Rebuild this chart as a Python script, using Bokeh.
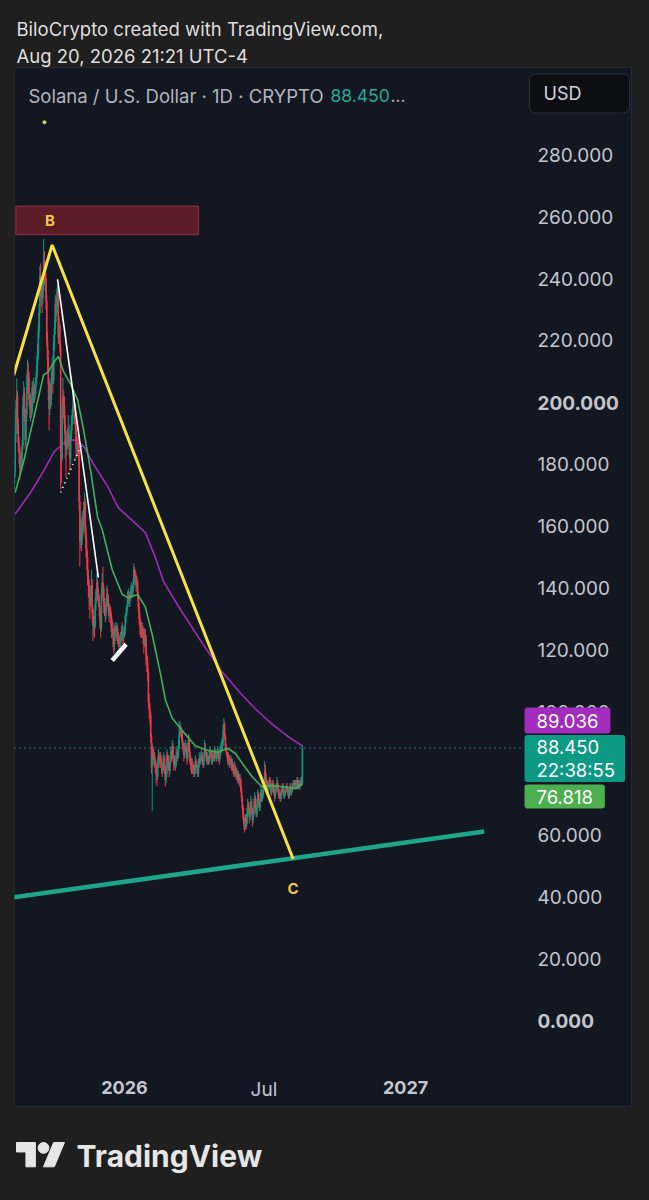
import pandas as pd
from bokeh.plotting import figure
from bokeh.layouts import column
from bokeh.models import (Range1d, LinearAxis, FixedTicker, NumeralTickFormatter,
                          Label, ColumnDataSource)
from bokeh.embed import file_html
from bokeh.resources import INLINE
from bokeh.core.properties import value

# ---------------- data ----------------
first_open = 174
month_starts = ["2025-08-11", "2025-09-01", "2025-10-01", "2025-11-01", "2025-12-01",
                "2026-01-01", "2026-02-01", "2026-03-01", "2026-04-01", "2026-05-01",
                "2026-06-01", "2026-07-01", "2026-08-01"]
close_2025_08 = [178, 190, 198, 202, 193, 187, 184, 179, 182, 181, 186, 199, 203, 196, 188, 196, 205, 210, 208, 201, 198]
high_2025_08 = [181, 193, 201, 208, 204, 195, 189, 186, 184, 185, 188, 202, 207, 205, 198, 198, 209, 214, 213, 210, 203]
low_2025_08 = [172, 176, 187, 195, 190, 184, 180, 175, 177, 178, 180, 185, 196, 194, 185, 186, 194, 203, 204, 199, 195]
close_2025_09 = [200, 197, 205, 202, 205, 203, 205, 208, 212, 216, 223, 229, 241, 238, 236, 234, 238, 246, 242, 240, 233, 220, 214, 206, 198, 205, 201, 208, 211, 207]
high_2025_09 = [203, 202, 207, 207, 208, 206, 207, 210, 215, 219, 226, 232, 244, 245, 240, 239, 241, 253, 249, 245, 242, 235, 223, 217, 208, 207, 206, 210, 215, 213]
low_2025_09 = [194, 195, 196, 199, 200, 200, 201, 203, 206, 210, 214, 221, 228, 234, 231, 229, 232, 236, 238, 236, 230, 218, 210, 201, 191, 196, 198, 199, 206, 203]
close_2025_10 = [220, 224, 232, 229, 234, 236, 221, 225, 218, 184, 182, 198, 202, 199, 193, 186, 185, 187, 188, 190, 186, 182, 189, 193, 195, 199, 200, 196, 194, 185, 187]
high_2025_10 = [222, 227, 235, 234, 237, 238, 237, 228, 226, 220, 188, 200, 208, 204, 202, 196, 190, 191, 192, 196, 193, 188, 191, 196, 198, 203, 204, 203, 200, 197, 190]
low_2025_10 = [206, 217, 222, 226, 228, 231, 219, 219, 216, 172, 174, 181, 196, 195, 190, 182, 176, 183, 185, 186, 183, 178, 180, 188, 191, 193, 197, 193, 190, 182, 183]
close_2025_11 = [186, 185, 168, 155, 158, 156, 163, 160, 166, 168, 158, 153, 150, 144, 141, 137, 135, 139, 141, 132, 128, 130, 128, 135, 139, 142, 139, 137, 134, 130]
high_2025_11 = [189, 188, 186, 170, 162, 161, 165, 164, 168, 171, 169, 160, 156, 152, 146, 143, 140, 141, 146, 143, 134, 133, 131, 137, 140, 145, 143, 140, 138, 135]
low_2025_11 = [183, 182, 165, 147, 153, 152, 154, 157, 158, 163, 156, 150, 146, 141, 137, 133, 130, 134, 136, 129, 123, 125, 124, 127, 133, 137, 136, 134, 131, 127]
close_2025_12 = [127, 138, 142, 140, 135, 134, 132, 134, 138, 137, 134, 132, 133, 131, 126, 127, 125, 122, 126, 127, 126, 127, 124, 123, 122, 123, 124, 126, 125, 126, 125]
high_2025_12 = [132, 140, 145, 147, 141, 137, 135, 137, 141, 140, 138, 135, 135, 134, 132, 130, 129, 127, 128, 129, 128, 129, 128, 126, 125, 125, 126, 128, 129, 128, 127]
low_2025_12 = [124, 126, 136, 137, 132, 131, 129, 130, 133, 134, 131, 129, 130, 128, 124, 124, 121, 119, 120, 124, 123, 124, 122, 121, 120, 121, 121, 123, 122, 123, 122]
close_2026_01 = [127, 131, 132, 134, 137, 138, 136, 137, 139, 140, 139, 141, 146, 144, 144, 141, 142, 138, 134, 130, 128, 127, 126, 127, 124, 122, 125, 124, 117, 116, 113]
high_2026_01 = [128, 132, 134, 135, 139, 140, 139, 139, 141, 142, 141, 143, 148, 147, 146, 145, 144, 143, 139, 135, 132, 130, 129, 129, 128, 126, 127, 127, 125, 119, 118]
low_2026_01 = [124, 125, 129, 131, 133, 135, 134, 134, 136, 137, 137, 138, 140, 142, 141, 139, 139, 136, 132, 128, 125, 124, 124, 124, 122, 119, 121, 121, 115, 113, 110]
close_2026_02 = [103, 101, 99, 92, 82, 88, 85, 86, 84, 83, 80, 79, 83, 86, 84, 86, 84, 82, 81, 84, 85, 82, 78, 80, 86, 84, 83, 81]
high_2026_02 = [114, 106, 103, 100, 93, 90, 89, 88, 87, 85, 84, 81, 85, 88, 87, 87, 87, 85, 83, 86, 87, 86, 83, 82, 88, 87, 86, 84]
low_2026_02 = [101, 98, 96, 90, 80, 68, 83, 83, 82, 80, 77, 76, 78, 82, 82, 83, 82, 80, 79, 80, 82, 80, 76, 77, 79, 82, 81, 79]
close_2026_03 = [84, 87, 86, 89, 85, 83, 84, 83, 86, 87, 86, 89, 93, 95, 94, 93, 90, 89, 86, 88, 89, 87, 85, 88, 91, 87, 84, 83, 82, 83, 82]
high_2026_03 = [86, 89, 88, 91, 90, 86, 86, 85, 88, 89, 88, 91, 97, 97, 96, 95, 94, 91, 90, 90, 91, 90, 88, 90, 93, 92, 88, 86, 85, 85, 84]
low_2026_03 = [80, 83, 84, 85, 84, 81, 82, 81, 82, 85, 84, 85, 88, 92, 92, 91, 88, 87, 84, 85, 87, 85, 83, 84, 87, 86, 83, 81, 80, 80, 80]
close_2026_04 = [80, 81, 84, 83, 82, 80, 83, 85, 84, 85, 86, 84, 83, 85, 88, 87, 86, 84, 85, 84, 86, 87, 86, 84, 85, 86, 85, 87, 86, 85]
high_2026_04 = [83, 83, 86, 85, 84, 83, 85, 87, 86, 87, 88, 87, 85, 87, 91, 90, 88, 87, 87, 86, 88, 89, 88, 87, 87, 88, 87, 89, 88, 87]
low_2026_04 = [79, 79, 80, 82, 80, 79, 79, 82, 83, 83, 84, 83, 82, 82, 85, 86, 84, 83, 83, 83, 83, 85, 85, 83, 83, 84, 84, 84, 85, 84]
close_2026_05 = [86, 87, 86, 85, 87, 88, 89, 90, 94, 96, 92, 89, 87, 86, 84, 85, 83, 85, 84, 82, 83, 81, 80, 82, 81, 79, 80, 78, 79, 77, 78]
high_2026_05 = [88, 89, 88, 87, 89, 90, 91, 92, 96, 98, 97, 93, 90, 88, 87, 87, 86, 86, 86, 85, 85, 84, 82, 84, 83, 82, 82, 81, 81, 80, 80]
low_2026_05 = [84, 85, 84, 83, 84, 86, 87, 88, 89, 93, 91, 88, 86, 85, 83, 83, 82, 82, 83, 81, 81, 80, 79, 79, 80, 78, 78, 77, 77, 76, 76]
close_2026_06 = [75, 72, 69, 66, 64, 63, 66, 64, 67, 70, 68, 66, 69, 71, 68, 65, 67, 70, 72, 69, 67, 70, 73, 71, 69, 72, 74, 72, 73, 75]
high_2026_06 = [79, 76, 73, 70, 67, 66, 67, 67, 69, 72, 71, 69, 71, 73, 72, 69, 69, 72, 74, 73, 70, 72, 75, 74, 72, 74, 76, 75, 75, 77]
low_2026_06 = [74, 71, 68, 65, 62, 61, 62, 62, 63, 66, 67, 64, 65, 68, 67, 63, 64, 66, 69, 68, 66, 66, 69, 70, 68, 68, 71, 71, 71, 72]
close_2026_07 = [77, 81, 79, 76, 77, 75, 76, 78, 77, 74, 75, 77, 76, 74, 73, 75, 76, 77, 75, 73, 74, 72, 73, 75, 76, 74, 73, 74, 75, 76, 75]
high_2026_07 = [78, 84, 83, 80, 78, 78, 77, 79, 79, 78, 76, 78, 78, 77, 75, 76, 77, 79, 78, 76, 75, 75, 74, 76, 77, 77, 75, 75, 76, 77, 77]
low_2026_07 = [74, 76, 78, 75, 75, 74, 74, 75, 76, 73, 73, 74, 75, 73, 71, 72, 74, 75, 74, 72, 72, 71, 71, 72, 74, 73, 72, 72, 73, 74, 74]
close_2026_08 = [74, 73, 75, 76, 74, 75, 76, 77, 76, 77, 76, 77, 78, 76, 77, 76, 77, 78, 77, 88.45]
high_2026_08 = [76, 75, 76, 77, 77, 76, 77, 78, 78, 78, 78, 78, 79, 79, 78, 78, 78, 79, 79, 89.2]
low_2026_08 = [73, 72, 72, 74, 73, 73, 74, 75, 75, 75, 75, 75, 76, 75, 75, 75, 75, 76, 76, 76.5]

# moving averages
ma_fast_dates = ["2025-08-12", "2025-08-23", "2025-09-05", "2025-09-18", "2025-09-24", "2025-10-01",
                 "2025-10-07", "2025-10-14", "2025-10-23", "2025-11-01", "2025-11-09", "2025-11-18",
                 "2025-11-27", "2025-12-03", "2025-12-16", "2025-12-29", "2026-01-06", "2026-01-18",
                 "2026-01-28", "2026-02-06", "2026-02-17", "2026-02-23", "2026-03-04", "2026-03-17",
                 "2026-04-03", "2026-04-20", "2026-05-02", "2026-05-15", "2026-05-25", "2026-06-03",
                 "2026-06-16", "2026-06-29", "2026-07-12", "2026-07-29", "2026-08-11", "2026-08-20"]
ma_fast_values = [171, 181, 195, 209, 210, 213, 215, 210, 206, 201, 191, 178, 163, 159, 146, 138, 137, 138,
                  134, 125, 112, 104, 98, 94, 89, 87.6, 87, 88.3, 86.6, 83.4, 79, 75.7, 76.3, 75.7, 75.3, 76.818]
ma_slow_dates = ["2025-08-12", "2025-09-01", "2025-09-18", "2025-10-01", "2025-10-14", "2025-10-27",
                 "2025-11-09", "2025-11-22", "2025-12-10", "2025-12-24", "2026-01-11", "2026-01-28",
                 "2026-02-10", "2026-02-21", "2026-03-15", "2026-04-10", "2026-05-06", "2026-06-01",
                 "2026-06-20", "2026-07-12", "2026-08-02", "2026-08-20"]
ma_slow_values = [164, 171, 178, 184, 187, 188, 186, 180, 173, 166, 162, 158, 150, 142, 133, 123, 113.5,
                  106, 101, 96, 92, 89.036]

last_price = 88.45
countdown = "22:38:55"
# drawings
abc_dates = ["2025-08-10", "2025-09-29", "2026-08-08"]
abc_values = [208.9, 251.0, 52.5]
support_dates = ["2025-08-10", "2027-04-13"]
support_values = [40.1, 61.4]
zone_dates = ["2025-08-13", "2026-04-07"]
zone_values = [254.4, 263.5]
white_dates = ["2025-10-06", "2025-11-28"]
white_values = [239.9, 143.5]
dotted_dates = ["2025-10-10", "2025-11-07"]
dotted_values = [171.0, 187.0]
thick_dates = ["2025-12-16", "2026-01-03"]
thick_values = [116.7, 121.9]
wave_labels = ["B", "C"]
wave_dates = ["2025-09-26", "2026-08-08"]
wave_values = [259.0, 43.0]
marker_dates = ["2025-09-19"]
marker_values = [290.7]

y_ticks = [0, 20, 40, 60, 80, 100, 120, 140, 160, 180, 200, 220, 240, 260, 280]
y_bold = [0, 200]
x_tick_dates = ["2026-01-01", "2026-07-01", "2027-01-01"]
x_tick_labels = ["2026", "Jul", "2027"]
x_bold = ["2026", "2027"]

# ---------------- helpers ----------------
ORIGIN = pd.Timestamp("2026-01-01")


def days(dates):
    return [(pd.Timestamp(d) - ORIGIN).days for d in dates]


closes = [close_2025_08, close_2025_09, close_2025_10, close_2025_11, close_2025_12, close_2026_01,
          close_2026_02, close_2026_03, close_2026_04, close_2026_05, close_2026_06, close_2026_07, close_2026_08]
highs = [high_2025_08, high_2025_09, high_2025_10, high_2025_11, high_2025_12, high_2026_01,
         high_2026_02, high_2026_03, high_2026_04, high_2026_05, high_2026_06, high_2026_07, high_2026_08]
lows = [low_2025_08, low_2025_09, low_2025_10, low_2025_11, low_2025_12, low_2026_01,
        low_2026_02, low_2026_03, low_2026_04, low_2026_05, low_2026_06, low_2026_07, low_2026_08]

X, O, H, L, C = [], [], [], [], []
prev = first_open
for start, cl, hi, lo in zip(month_starts, closes, highs, lows):
    d0 = (pd.Timestamp(start) - ORIGIN).days
    for i, c in enumerate(cl):
        o = prev
        X.append(d0 + i)
        O.append(o)
        C.append(c)
        H.append(max(hi[i], o, c))
        L.append(min(lo[i], o, c))
        prev = c

UP, DOWN = "#089981", "#f23645"
colors = [UP if c >= o else DOWN for o, c in zip(O, C)]
src = ColumnDataSource(dict(x=X, o=O, h=H, l=L, c=C, color=colors))

FONT = "Inter"
OUTER = "#1f1f1f"
PANEL = "#131722"
TXT = "#c3c6cd"

# ---------------- header ----------------
hdr = figure(width=649, height=67, x_range=Range1d(0, 649), y_range=Range1d(67, 0),
             output_backend="svg", toolbar_location=None, x_axis_location=None, y_axis_location=None,
             min_border=0, background_fill_color=OUTER, border_fill_color=OUTER, outline_line_color=None)
hdr.grid.visible = False
hdr.text(x=[16, 16], y=[28, 55], text=["BiloCrypto created with TradingView.com,", "Aug 20, 2026 21:21 UTC-4"],
         text_font=value(FONT), text_font_size="18.5px", text_color="#dedede", text_baseline="middle")

# ---------------- main chart ----------------
PX_PER_DAY = 0.77
PX_PER_USD = 3.0929
X0 = -142.9          # left edge of the panel (days from 2026-01-01)
Y1 = 308.4           # top edge of the panel (USD)
W, Hh = 618, 1040
AXIS_X = X0 + 508 / PX_PER_DAY          # where the price scale begins
AXIS_Y = Y1 - 1000 / PX_PER_USD         # where the time scale begins

p = figure(width=W, height=Hh, x_range=Range1d(X0, X0 + W / PX_PER_DAY),
           y_range=Range1d(Y1 - Hh / PX_PER_USD, Y1),
           output_backend="svg", toolbar_location=None, x_axis_location=None, y_axis_location=None,
           min_border=0, background_fill_color=PANEL, border_fill_color=PANEL,
           outline_line_color="#242832", outline_line_width=1)
p.margin = (0, 0, 0, 14)
p.grid.visible = False

yax = LinearAxis(ticker=FixedTicker(ticks=y_ticks), formatter=NumeralTickFormatter(format="0.000"),
                 major_label_overrides={t: " " for t in y_bold}, fixed_location=AXIS_X)
xax = LinearAxis(ticker=FixedTicker(ticks=days(x_tick_dates)), fixed_location=AXIS_Y,
                 major_label_overrides={d: (" " if lab in x_bold else lab)
                                        for d, lab in zip(days(x_tick_dates), x_tick_labels)})
for ax in (yax, xax):
    ax.axis_line_color = None
    ax.major_tick_line_color = None
    ax.minor_tick_line_color = None
    ax.major_tick_out = 0
    ax.major_tick_in = 0
    ax.minor_tick_out = 0
    ax.major_label_text_color = TXT
    ax.major_label_text_font = FONT
    ax.major_label_text_font_size = "19px"
yax.major_label_standoff = 15
xax.major_label_standoff = 10
p.add_layout(yax, "right")
p.add_layout(xax, "below")

for t in y_bold:
    p.add_layout(Label(x=AXIS_X, y=t, x_units="data", y_units="data", x_offset=15, text=f"{t:.3f}",
                       text_font=FONT, text_font_size="19px", text_font_style="bold",
                       text_color=TXT, text_baseline="middle"))
for d, lab in zip(days(x_tick_dates), x_tick_labels):
    if lab in x_bold:
        p.add_layout(Label(x=d, y=20, x_units="data", y_units="screen", text=lab,
                           text_font=FONT, text_font_size="18px", text_font_style="bold",
                           text_color=TXT, text_align="center", text_baseline="middle"))

# zone box
zx = days(zone_dates)
p.quad(left=[zx[0]], right=[zx[1]], bottom=[zone_values[0]], top=[zone_values[1]],
       fill_color="#5a1d28", line_color="#7e2b37", line_width=1.5)

# moving averages
p.line(days(ma_slow_dates), ma_slow_values, line_color="#a02ab8", line_width=1.6)

# candles
p.segment(x0="x", y0="l", x1="x", y1="h", color="color", line_width=1, source=src)
p.segment(x0="x", y0="o", x1="x", y1="c", color="color", line_width=1.6, source=src)

p.line(days(ma_fast_dates), ma_fast_values, line_color="#43b05a", line_width=1.6)

# last price line (stops at the price scale)
p.line([X0, AXIS_X], [last_price, last_price], line_color="#26a69a", line_dash="1 4", line_width=1.3)

# drawings
p.line(days(support_dates), support_values, line_color="#1fa68a", line_width=4.5)
p.line(days(abc_dates), abc_values, line_color="#f6e33c", line_width=3)
p.line(days(white_dates), white_values, line_color="#ffffff", line_width=1.6)
p.line(days(dotted_dates), dotted_values, line_color="#ffffff", line_width=2, line_dash="1 4")
p.line(days(thick_dates), thick_values, line_color="#ffffff", line_width=4.5)
p.scatter(days(marker_dates), marker_values, size=3, color="#d8e04a")
p.text(x=days(wave_dates), y=wave_values, text=wave_labels, text_font=value(FONT),
       text_font_size="15px", text_font_style="bold", text_color="#f5c542",
       text_align="center", text_baseline="middle")

# title inside panel
p.add_layout(Label(x=14, y=1012, x_units="screen", y_units="screen",
                   text="Solana / U.S. Dollar · 1D · CRYPTO", text_font=FONT, text_font_size="18.5px",
                   text_color="#b2b5be", text_baseline="middle"))
p.add_layout(Label(x=316, y=1012, x_units="screen", y_units="screen", text=f"{last_price:.3f}",
                   text_font=FONT, text_font_size="17.5px", text_color="#22ab94", text_baseline="middle"))
p.add_layout(Label(x=376, y=1012, x_units="screen", y_units="screen", text="...",
                   text_font=FONT, text_font_size="17.5px", text_color="#b2b5be", text_baseline="middle"))

# USD box  (padding order: left, right, top, bottom)
p.add_layout(Label(x=515, y=1014, x_units="screen", y_units="screen", text="USD",
                   text_font=FONT, text_font_size="18px", text_color="#d1d4dc", text_baseline="middle",
                   background_fill_color="#0c0e13", border_line_color="#2a2e39", border_radius=6,
                   padding=(14, 48, 9, 9)))

# price tags
tags = [(f"{ma_slow_values[-1]:.3f}", 387, "#a22cbd", (12, 12, 6, 6)),
        (f"{last_price:.3f}\n{countdown}", 349, "#0d9a84", (12, 10, 1, 1)),
        (f"{ma_fast_values[-1]:.3f}", 311, "#4caf50", (12, 12, 5, 5))]
for txt, sy, col, pad in tags:
    p.add_layout(Label(x=510, y=sy, x_units="screen", y_units="screen", text=txt,
                       text_font=FONT, text_font_size="18.5px", text_color="#ffffff",
                       text_baseline="middle", text_line_height=1.05, background_fill_color=col,
                       border_radius=3, padding=pad))

# ---------------- footer ----------------
ftr = figure(width=649, height=93, x_range=Range1d(0, 649), y_range=Range1d(93, 0),
             output_backend="svg", toolbar_location=None, x_axis_location=None, y_axis_location=None,
             min_border=0, background_fill_color=OUTER, border_fill_color=OUTER, outline_line_color=None)
ftr.grid.visible = False
s = 1.35
ox, oy = 16, 35
T_shape = [(0, 4), (14, 4), (14, 22), (7, 22), (7, 11), (0, 11)]
V_shape = [(20, 22), (27.5, 4), (35.5, 4), (28, 22)]
logo = "#e6e6e6"
ftr.patch([ox + s * a for a, b in T_shape], [oy + s * (b - 4) for a, b in T_shape], color=logo)
ftr.patch([ox + s * a for a, b in V_shape], [oy + s * (b - 4) for a, b in V_shape], color=logo)
ftr.scatter([ox + s * 20], [oy + s * 4], size=2 * s * 4, color=logo)
ftr.text(x=[76], y=[48], text=["TradingView"], text_font=value(FONT), text_font_size="30px",
         text_font_style="bold", text_color=logo, text_baseline="middle")

layout = column(hdr, p, ftr, spacing=0)
html = file_html(layout, INLINE)
html = html.replace("<head>", "<head><style>html,body{background:#1f1f1f;}</style>", 1)
open("out.html", "w").write(html)
